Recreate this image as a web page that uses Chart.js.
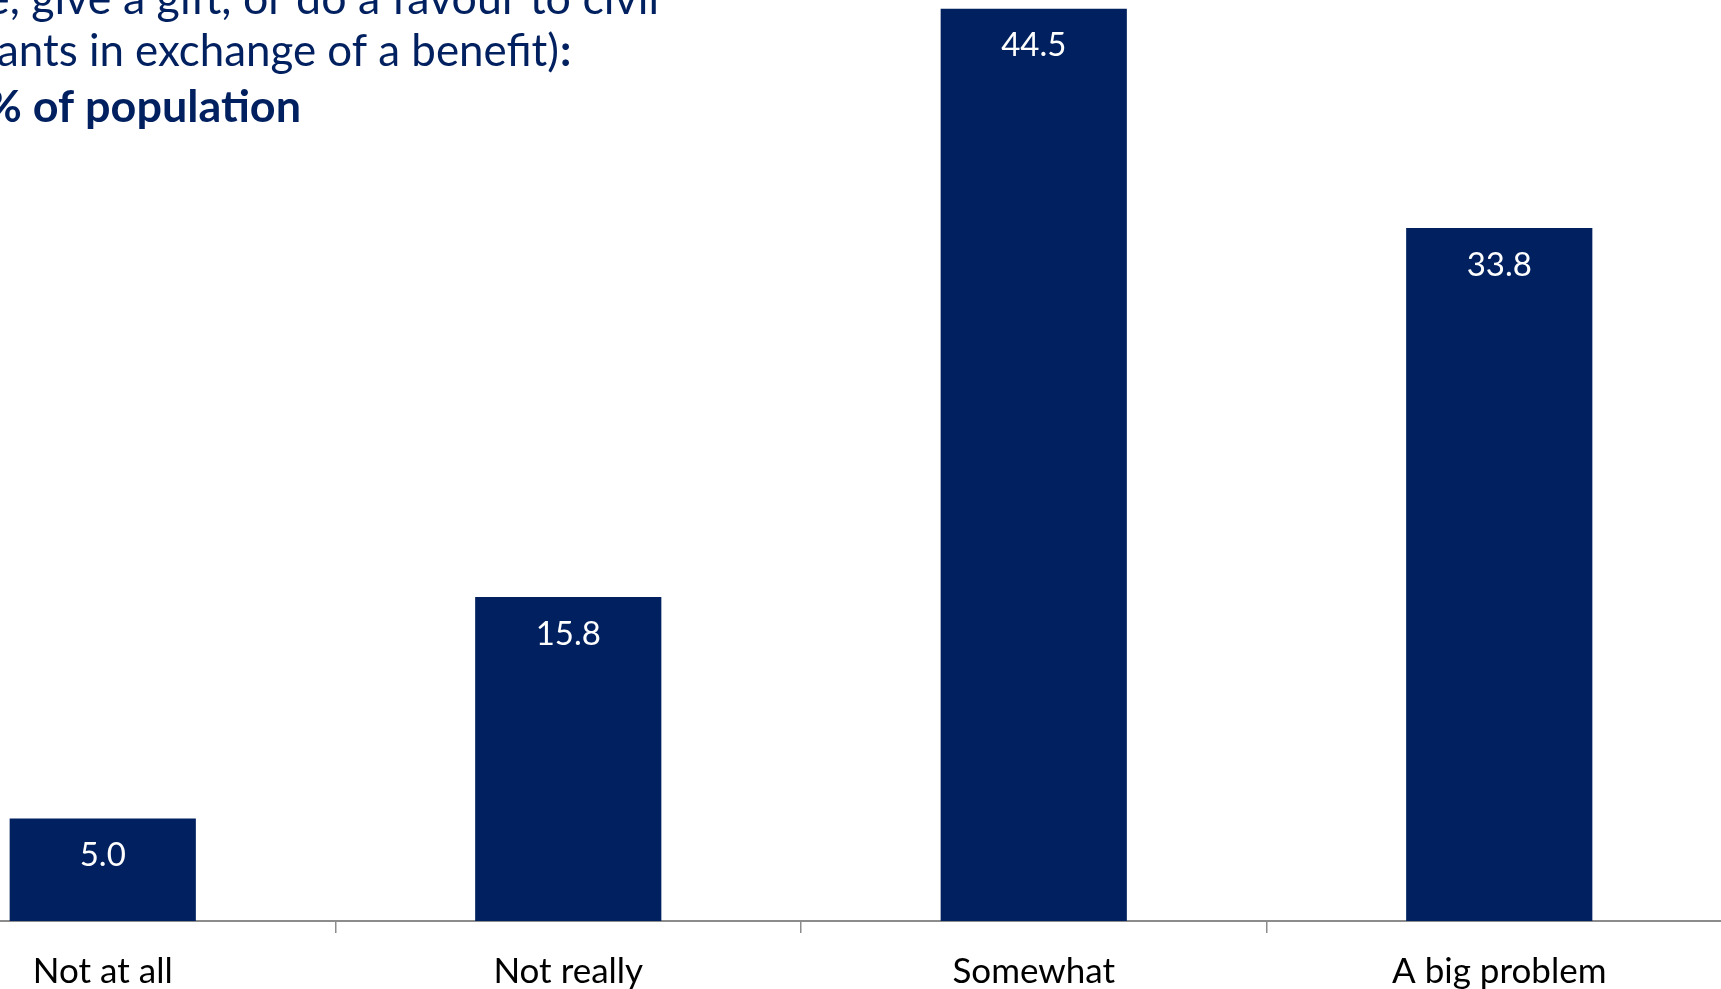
<!DOCTYPE html>
<html><head><meta charset="utf-8">
<script src="https://cdn.jsdelivr.net/npm/chart.js@4/dist/chart.umd.min.js"></script>
<style>
html,body{margin:0;padding:0;background:#fff;overflow:hidden;width:1721px;height:989px;position:relative}
#c{position:absolute;left:-130px;top:-20px}
</style></head><body>
<canvas id="c" width="1862" height="1030"></canvas>
<script>
const categories = ['Not at all', 'Not really', 'Somewhat', 'A big problem'];
const values = [5.0, 15.8, 44.5, 33.8];
const valueLabels = ['5.0', '15.8', '44.5', '33.8'];
const titleLine1 = 'e, give a gift, or do a favour to civil';
const titleLine2 = 'ants in exchange of a benefit)';
const titleLine2End = ':';
const titleLine3 = '% of population';

const OFFX = 130, OFFY = 20;
const NAVY = '#00205f';

function drawFit(ctx, text, font, x0, x1, baseline) {
  ctx.font = font;
  const w = ctx.measureText(text).width;
  ctx.save();
  ctx.translate(x0 + OFFX, baseline + OFFY);
  ctx.scale((x1 - x0) / w, 1);
  ctx.textAlign = 'left';
  ctx.textBaseline = 'alphabetic';
  ctx.fillText(text, 0, 0);
  ctx.restore();
}

const titlePlugin = {
  id: 'titleText',
  afterDraw(chart) {
    const ctx = chart.ctx;
    ctx.save();
    ctx.fillStyle = NAVY;
    drawFit(ctx, titleLine1, '44px Lato', -14, 659, 14);
    drawFit(ctx, titleLine2, '44px Lato', -3, 559, 66);
    ctx.font = 'bold 44px Lato';
    ctx.textBaseline = 'alphabetic';
    ctx.textAlign = 'left';
    ctx.fillText(titleLine2End, 560 + OFFX, 66 + OFFY);
    drawFit(ctx, titleLine3, 'bold 44px Lato', -15, 301, 122);
    ctx.restore();
  }
};

const valuePlugin = {
  id: 'valueLabels',
  afterDatasetsDraw(chart) {
    const ctx = chart.ctx;
    const meta = chart.getDatasetMeta(0);
    ctx.save();
    ctx.fillStyle = '#ffffff';
    ctx.font = '33px Lato';
    ctx.textAlign = 'center';
    ctx.textBaseline = 'middle';
    meta.data.forEach((bar, i) => {
      ctx.fillText(valueLabels[i], bar.x, bar.y + 37);
    });
    ctx.restore();
  }
};

new Chart(document.getElementById('c'), {
  type: 'bar',
  data: {
    labels: categories,
    datasets: [{
      data: values,
      backgroundColor: NAVY,
      borderWidth: 0,
      categoryPercentage: 0.4,
      barPercentage: 1
    }]
  },
  options: {
    responsive: false,
    animation: false,
    devicePixelRatio: 1,
    layout: { padding: { top: 18.5, left: 0, right: 0, bottom: 0 } },
    plugins: { legend: { display: false }, tooltip: { enabled: false }, title: { display: false } },
    scales: {
      y: { display: false, min: 0, max: 45 },
      x: {
        grid: { offset: true, drawOnChartArea: false, drawTicks: true, tickLength: 12, color: '#8c8c8c', lineWidth: 1.5 },
        border: { display: true, color: '#8c8c8c', width: 2 },
        ticks: { color: '#000', font: { family: 'Lato', size: 35 }, padding: 18, maxRotation: 0, autoSkip: false },
        afterFit(s) { s.height = 89; }
      }
    }
  },
  plugins: [titlePlugin, valuePlugin]
});
</script>
</body></html>
